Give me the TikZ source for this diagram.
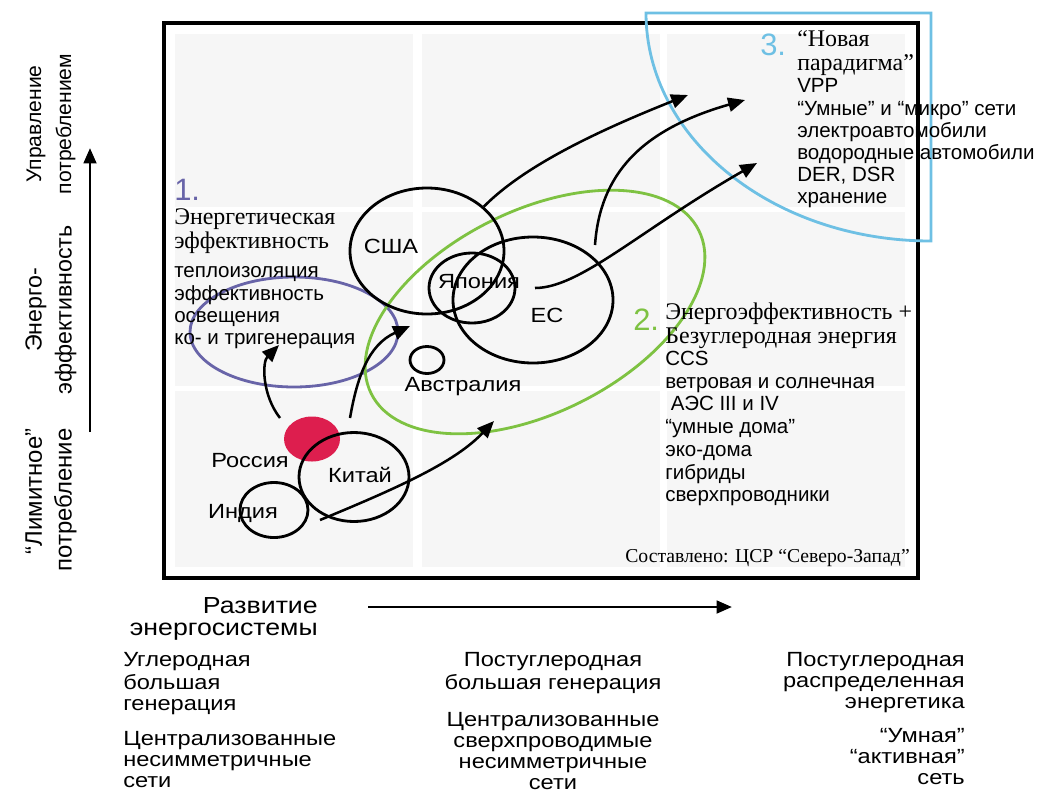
\documentclass[tikz,border=0pt]{standalone}
\usepackage{fontspec}
\setmainfont{Liberation Serif}
\setsansfont{Liberation Sans}
\newfontfamily\widesans{Liberation Sans}[FakeStretch=1.15]
\usetikzlibrary{arrows.meta, positioning, shapes.geometric}
\definecolor{zoneblue}{RGB}{110, 192, 228}
\definecolor{zonegreen}{RGB}{126, 194, 66}
\definecolor{zonepurple}{RGB}{104, 100, 168}
\definecolor{russiared}{RGB}{221, 30, 78}
\definecolor{cellgray}{RGB}{246, 246, 246}
\newcommand{\px}{0.025cm}
\newcommand{\listfont}{\sffamily\fontsize{14.6}{15.8}\selectfont}
\newcommand{\namefont}{\widesans\fontsize{14.6}{15.8}\selectfont}
\newcommand{\headfont}{\rmfamily\fontsize{17}{15.6}\selectfont}
\newcommand{\numfont}{\sffamily\fontsize{22}{22}\selectfont}
\newcommand{\stagefont}{\widesans\fontsize{14.6}{14.9}\selectfont}

\begin{document}
\begin{tikzpicture}[x=\px, y=\px,
    country/.style={draw, ellipse, line width=2pt, inner sep=0pt},
    cname/.style={font=\namefont, anchor=base, inner sep=0pt},
    txt/.style={inner sep=0pt, anchor=north west, align=left},
    num/.style={font=\numfont, anchor=base west, inner sep=0pt},
    axislabel/.style={rotate=90, align=center, inner sep=0pt},
    arr/.style={line width=1.8pt, -{Triangle[length=12pt, width=10pt]}},
    axisarr/.style={line width=2pt, -{Triangle[length=11pt, width=9pt]}},
    zone/.style={line width=2pt}
  ]
  \useasboundingbox (0,0) rectangle (1037,-791);
  % grey cells and frame
  \foreach \xa/\xb in {175/413, 422/660, 667/905}
    \foreach \ya/\yb in {34/207, 212/386, 391/567}
      \fill[cellgray] (\xa,-\ya) rectangle (\xb,-\yb);
  \draw[line width=2.8pt] (164,-23) rectangle (918,-578);

  % zones
  \draw[zone, zonepurple] (294,-332) ellipse[x radius=104, y radius=55];
  \draw[zone, zonegreen, rotate around={26.5:(535,-312)}] (535,-312) ellipse[x radius=183, y radius=101];
  \draw[zone, zoneblue] (646,-13) -- (931,-13) -- (931,-241) arc[start angle=270, end angle=180, x radius=285, y radius=228] -- cycle;

  % countries
  \node[country, minimum width=154*\px, minimum height=126*\px] (usa) at (427,-251) {};
  \node[country, minimum width=86*\px, minimum height=70*\px] (japan) at (472,-288) {};
  \node[country, minimum width=160*\px, minimum height=126*\px] (eu) at (533,-300) {};
  \node[country, minimum width=34*\px, minimum height=27*\px] (aus) at (427,-360) {};
  \node[country, draw=none, fill=russiared, minimum width=56*\px, minimum height=45*\px] (russia) at (312,-439) {};
  \node[country, minimum width=110*\px, minimum height=89*\px] (china) at (354,-477) {};
  \node[country, minimum width=68*\px, minimum height=55*\px] (india) at (274,-510) {};

  \node[cname] (usa-name) at (391,-253) {США};
  \node[cname] (japan-name) at (479,-288) {Япония};
  \node[cname] (eu-name) at (547,-322) {ЕС};
  \node[cname] (aus-name) at (463,-391) {Австралия};
  \node[cname] (russia-name) at (250,-467) {Россия};
  \node[cname] (china-name) at (360,-482) {Китай};
  \node[cname] (india-name) at (243,-518) {Индия};

  % arrows
  \coordinate (ru-tail1) at (280,-418);
  \coordinate (z1-head) at (279,-345);
  \draw[arr] (ru-tail1) .. controls (262,-395) and (262,-362) .. (z1-head);
  \coordinate (ru-tail2) at (350,-418);
  \coordinate (z2-head1) at (410,-326);
  \draw[arr] (ru-tail2) .. controls (357,-378) and (368,-345) .. (z2-head1);
  \coordinate (in-tail) at (320,-520);
  \coordinate (z2-head2) at (494,-421);
  \draw[arr] (in-tail) .. controls (400,-487) and (455,-462) .. (z2-head2);
  \coordinate (z3-head1) at (688,-95);
  \draw[arr] (usa.38) .. controls (525,-165) and (600,-130) .. (z3-head1);
  \coordinate (eu-tail) at (595,-245);
  \coordinate (z3-head2) at (745,-100);
  \draw[arr] (eu-tail) .. controls (600,-175) and (640,-130) .. (z3-head2);
  \coordinate (jp-tail) at (535,-288);
  \coordinate (z3-head3) at (757,-163);
  \draw[arr] (jp-tail) .. controls (580,-288) and (640,-230) .. (z3-head3);

  % zone texts
  \node[num, zonepurple] (n1) at (174,-200) {1.};
  \node[txt, font=\headfont] (h1) at (174,-208) {\strut Энергетическая\\эффективность};
  \node[txt, font=\listfont] (l1) at (174,-262) {\strut теплоизоляция\\эффективность\\освещения\\ко- и тригенерация};

  \node[num, zonegreen] (n2) at (633,-330) {2.};
  \node[txt, font=\headfont] (h2) at (665,-303) {\strut Энергоэффективность +\\Безуглеродная энергия};
  \node[txt, font=\sffamily\fontsize{14.6}{16.2}\selectfont] (l2) at (665,-349) {\strut CCS\\ветровая и солнечная\\\ АЭС III и IV\\“умные дома”\\эко-дома\\гибриды\\сверхпроводники};

  \node[num, zoneblue] (n3) at (760,-55) {3.};
  \node[txt, font=\headfont] (h3) at (797,-30) {\strut “Новая\\парадигма”};
  \node[txt, font=\listfont] (l3) at (797,-77) {\strut VPP\\“Умные” и “микро” сети\\электроавтомобили\\водородные автомобили\\DER, DSR\\хранение};

  \node[font=\rmfamily\fontsize{14}{14}\selectfont, anchor=base east, inner sep=0pt] (source) at (910,-562) {Составлено: ЦСР “Северо-Запад”};

  % axes
  \coordinate (vlow) at (90,-432);
  \coordinate (vhigh) at (90,-148);
  \draw[axisarr] (vlow) -- (vhigh);
  \node[axislabel, font=\sffamily\fontsize{15}{21.3}\selectfont] (ax-top) at (51,-124) {Управление\\потреблением};
  \node[axislabel, font=\sffamily\fontsize{16.5}{21.3}\selectfont] (ax-mid) at (51,-310) {Энерго-\\эффективность};
  \node[axislabel, align=right, font=\sffamily\fontsize{17}{21.3}\selectfont] (ax-low) at (51,-500) {“Лимитное”\\потребление};

  \coordinate (hleft) at (368,-607);
  \coordinate (hright) at (732,-607);
  \draw[axisarr] (hleft) -- (hright);
  \node[txt, anchor=north east, align=right, font=\widesans\fontsize{16.5}{15.6}\selectfont] (dev) at (318,-597) {\strut Развитие\\энергосистемы};

  % stages
  \node[txt, font=\stagefont] (st1a) at (123,-652) {\strut Углеродная\\большая\\генерация};
  \node[txt, font=\stagefont] (st1b) at (123,-731) {\strut Централизованные\\несимметричные\\сети};
  \node[txt, anchor=north, align=center, font=\stagefont] (st2a) at (553,-652) {\strut Постуглеродная\\большая генерация};
  \node[txt, anchor=north, align=center, font=\stagefont] (st2b) at (553,-712) {\strut Централизованные\\сверхпроводимые\\несимметричные\\сети};
  \node[txt, anchor=north east, align=right, font=\stagefont] (st3a) at (965,-652) {\strut Постуглеродная\\распределенная\\энергетика};
  \node[txt, anchor=north east, align=right, font=\stagefont] (st3b) at (965,-728) {\strut “Умная”\\“активная”\\сеть};
\end{tikzpicture}
\end{document}
